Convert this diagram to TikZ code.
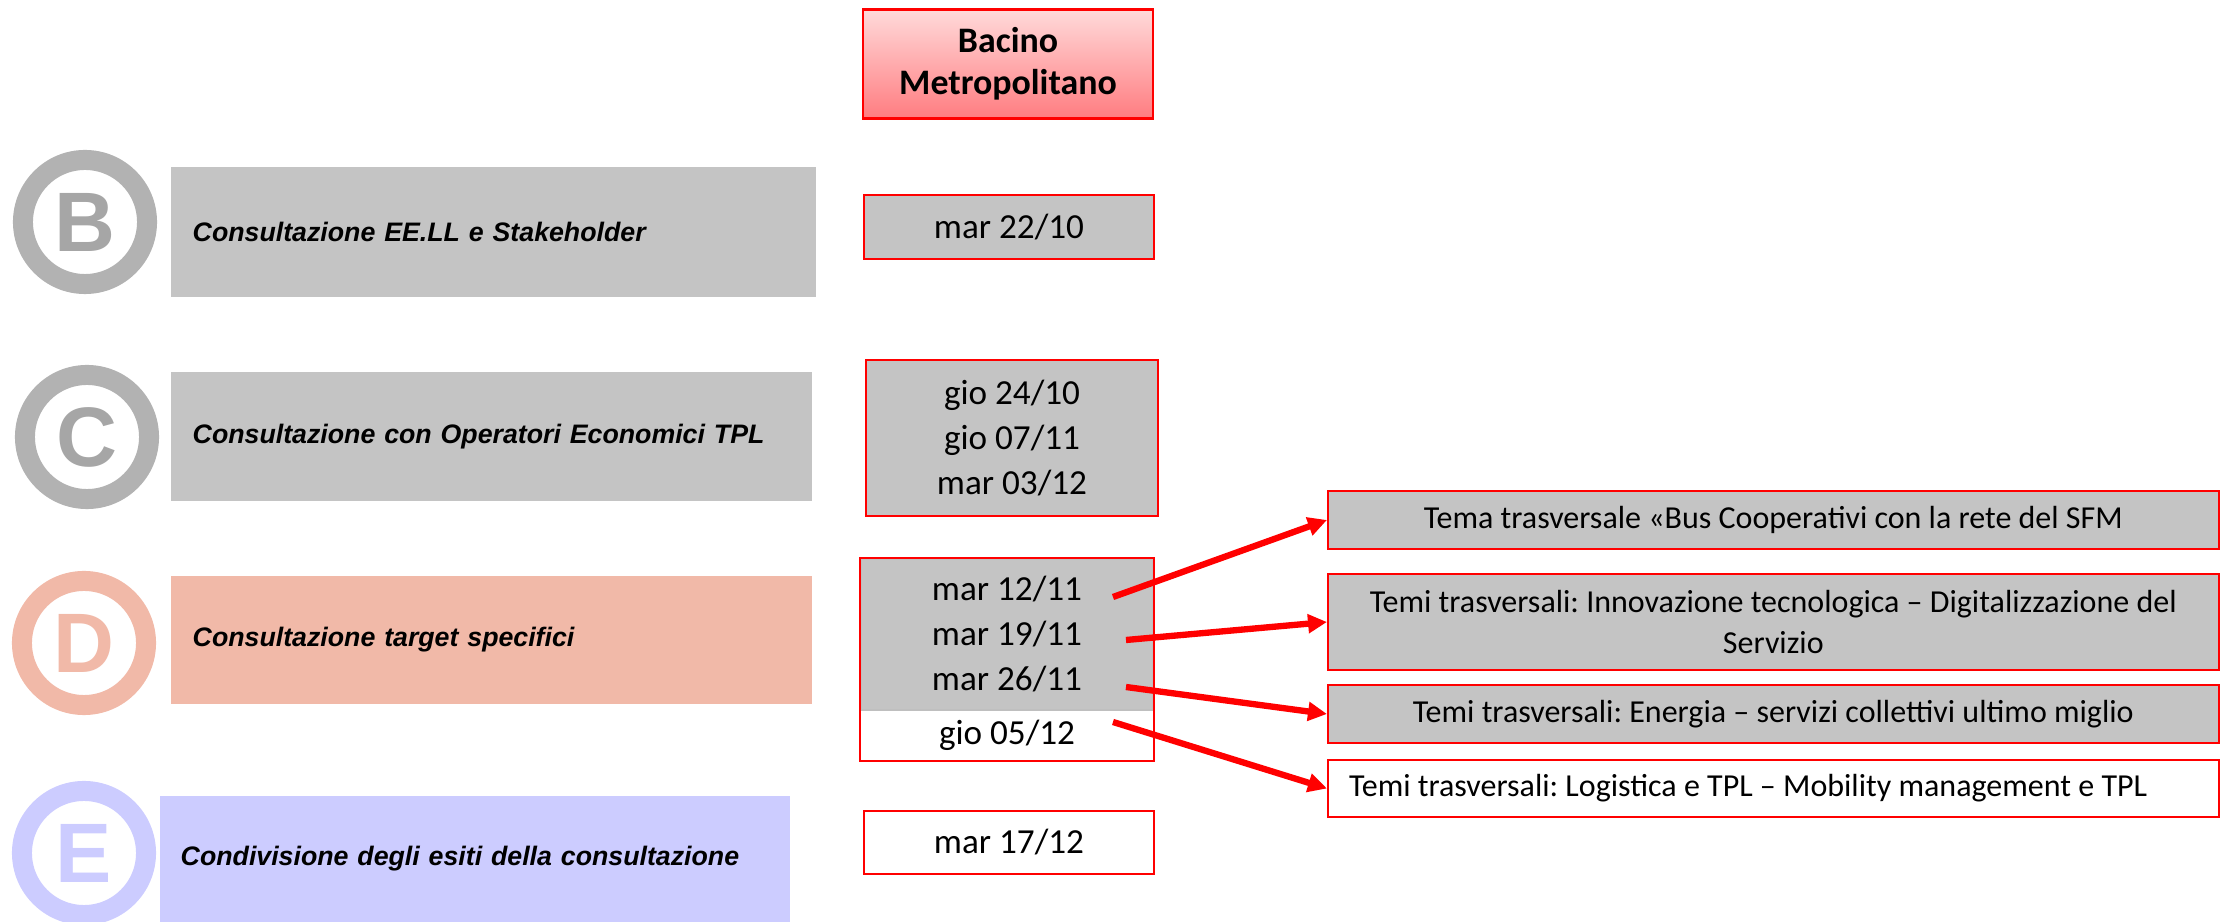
\documentclass[tikz,border=0pt]{standalone}
\usepackage{fontspec}
\setmainfont{Carlito}
\newfontfamily\arialfont{Liberation Sans}
\usetikzlibrary{arrows.meta}

\definecolor{redline}{HTML}{FF0000}
\definecolor{dotgray}{HTML}{C4C4C4}
\definecolor{ringgray}{HTML}{B2B2B2}
\definecolor{lettergray}{HTML}{A6A6A6}
\definecolor{salmon}{HTML}{F1B9A8}
\definecolor{lavender}{HTML}{CCCCFF}
\definecolor{pinktop}{HTML}{FFDADA}
\definecolor{pinkbot}{HTML}{FF7C80}

\begin{document}
\begin{tikzpicture}[x=0.01cm, y=-0.01cm,
  datebox/.style={draw=redline, line width=0.6pt, minimum width=2.9cm, inner sep=0pt, align=center, font=\fontsize{10}{12.8}\selectfont},
  theme/.style={draw=redline, line width=0.6pt, minimum width=8.9cm, anchor=west, align=center, font=\frenchspacing\fontsize{9.1}{11.7}\selectfont},
  phase/.style={fill=#1, anchor=west, inner xsep=0.22cm, inner ysep=0pt, align=left, font=\arialfont\bfseries\itshape\fontsize{7.6}{9}\selectfont},
  circ/.style={circle, draw=#1, fill=white, line width=0.2cm, minimum size=1.24cm, inner sep=0pt, font=\arialfont\bfseries\fontsize{24}{24}\selectfont},
  link/.style={redline, line width=1.8pt, -{Triangle[length=5.4pt, width=5.2pt]}}]
  \useasboundingbox (0,0) rectangle (2220,922);

  \node[circ=ringgray, text=lettergray] (cB) at (85,222) {B};
  \node[circ=ringgray, text=lettergray] (cC) at (87,437) {C};
  \node[circ=salmon, text=salmon] (cD) at (84,643) {D};
  \node[circ=lavender, text=lavender] (cE) at (84,853) {E};

  \node[phase=dotgray, text width=6.01cm, minimum height=1.30cm] (pB) at (170,232) {Consultazione EE.LL e Stakeholder};
  \node[phase=dotgray, text width=5.97cm, minimum height=1.29cm] (pC) at (170,436.5) {Consultazione con Operatori Economici TPL};
  \node[phase=salmon, text width=5.97cm, minimum height=1.28cm] (pD) at (170,640) {Consultazione target specifici};
  \node[phase=lavender, inner xsep=0.21cm, text width=5.88cm, minimum height=1.26cm] (pE) at (159,859) {Condivisione degli esiti della consultazione};

  \node[datebox, minimum height=1.09cm, top color=pinktop, bottom color=pinkbot, font=\bfseries\fontsize{10.2}{12}\selectfont] (head) at (1008,64) {Bacino\\Metropolitano};
  \node[datebox, fill=dotgray, minimum height=0.64cm] (d22) at (1009,227) {mar 22/10};
  \node[datebox, fill=dotgray, minimum width=2.91cm, minimum height=1.56cm] (dC) at (1012,438) {gio 24/10\\gio 07/11\\mar 03/12};
  \node[datebox, draw=black!25, fill=dotgray, minimum width=2.92cm, minimum height=1.51cm] (dD) at (1007,634.5) {mar 12/11\\mar 19/11\\mar 26/11};
  \node[datebox, draw=none, minimum width=2.92cm, minimum height=0.50cm] (d05) at (1007,735) {gio 05/12};
  \draw[redline, line width=0.6pt] (dD.north west) rectangle (d05.south east);
  \node[datebox, fill=white, minimum height=0.63cm] (dE) at (1009,842.5) {mar 17/12};

  \node[theme, fill=dotgray, minimum height=0.58cm] (t1) at (1327,520) {Tema trasversale «Bus Cooperativi con la rete del SFM};
  \node[theme, fill=dotgray, minimum height=0.96cm] (t2) at (1327,622) {Temi trasversali: Innovazione tecnologica – Digitalizzazione del\\Servizio};
  \node[theme, fill=dotgray, minimum height=0.58cm] (t3) at (1327,714) {Temi trasversali: Energia – servizi collettivi ultimo miglio};
  \node[theme, fill=white, minimum height=0.57cm, inner xsep=0.21cm, text width=8.48cm, align=flush left] (t4) at (1327,788.5) {Temi trasversali: Logistica e TPL – Mobility management e TPL};

  \coordinate (s1) at (1113,597);
  \coordinate (s2) at (1126,640);
  \coordinate (s3) at (1126,687);
  \coordinate (s4) at (1113,722);
  \draw[link] (s1) -- (t1.west);
  \draw[link] (s2) -- (t2.west);
  \draw[link] (s3) -- (t3.west);
  \draw[link] (s4) -- (t4.west);
\end{tikzpicture}
\end{document}
